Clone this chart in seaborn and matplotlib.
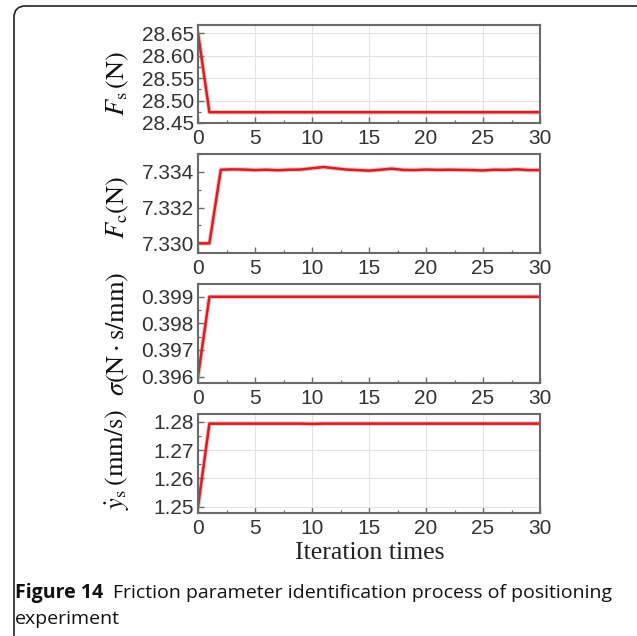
import numpy as np
import pandas as pd
import matplotlib
matplotlib.use("Agg")
import matplotlib.pyplot as plt
import seaborn as sns
from matplotlib.patches import FancyBboxPatch
from matplotlib.ticker import MultipleLocator, FormatStrFormatter

# ---------------- data ----------------
iterations = list(range(0, 31))

fs_values = [28.650, 28.474, 28.474, 28.474, 28.474, 28.474, 28.474, 28.474,
             28.474, 28.474, 28.474, 28.474, 28.474, 28.474, 28.474, 28.474,
             28.474, 28.474, 28.474, 28.474, 28.474, 28.474, 28.474, 28.474,
             28.474, 28.474, 28.474, 28.474, 28.474, 28.474, 28.474]

fc_values = [7.33000, 7.33000, 7.33412, 7.33414, 7.33413, 7.33410, 7.33412,
             7.33409, 7.33412, 7.33413, 7.33420, 7.33427, 7.33420, 7.33413,
             7.33410, 7.33407, 7.33412, 7.33418, 7.33411, 7.33410, 7.33413,
             7.33411, 7.33412, 7.33411, 7.33410, 7.33408, 7.33412, 7.33411,
             7.33414, 7.33410, 7.33410]

sigma_values = [0.39600, 0.39900, 0.39900, 0.39900, 0.39900, 0.39900, 0.39900,
                0.39900, 0.39900, 0.39900, 0.39900, 0.39900, 0.39900, 0.39900,
                0.39900, 0.39900, 0.39900, 0.39900, 0.39900, 0.39900, 0.39900,
                0.39900, 0.39900, 0.39900, 0.39900, 0.39900, 0.39900, 0.39900,
                0.39900, 0.39900, 0.39900]

ys_values = [1.2500, 1.2793, 1.2793, 1.2793, 1.2793, 1.2793, 1.2793, 1.2793,
             1.2793, 1.2793, 1.2792, 1.2793, 1.2793, 1.2793, 1.2793, 1.2793,
             1.2793, 1.2793, 1.2793, 1.2793, 1.2793, 1.2793, 1.2793, 1.2793,
             1.2793, 1.2793, 1.2793, 1.2793, 1.2793, 1.2793, 1.2793]

y_labels = [r"$F_{\mathrm{s}}\,\left(\mathrm{N}\right)$",
            r"$F_{\mathrm{c}}\left(\mathrm{N}\right)$",
            r"$\sigma\left(\mathrm{N\cdot s/mm}\right)$",
            r"$\dot{y}_{\mathrm{s}}\,\left(\mathrm{mm/s}\right)$"]
x_label = "Iteration times"
caption_bold = "Figure 14"
caption_line1 = "Friction parameter identification process of positioning"
caption_line2 = "experiment"

# ---------------- style ----------------
sns.set_theme(style="ticks")
plt.rcParams["font.family"] = ["Liberation Sans", "DejaVu Sans"]
plt.rcParams["mathtext.fontset"] = "stix"

W, H = 637, 636
fig = plt.figure(figsize=(W / 100, H / 100), dpi=100)
fig.patch.set_facecolor("white")

# rounded frame
frame = FancyBboxPatch((14 / W, -0.05), (W + 20) / W, 1 - 6 / H + 0.05,
                       boxstyle="round,pad=0,rounding_size=0.018",
                       transform=fig.transFigure, facecolor="none",
                       edgecolor="#222222", linewidth=1.2, zorder=0)
fig.patches.append(frame)

left_px, right_px = 198, 540
panels_px = [(25, 123), (154, 253), (284, 383), (414, 513)]

specs = [
    dict(vals=fs_values, ylim=(28.45, 28.668), major=0.05, fmt="%.2f", grid=True, lab_y=0.40),
    dict(vals=fc_values, ylim=(7.32946, 7.33500), major=0.002, fmt="%.3f", grid=False, lab_y=0.46),
    dict(vals=sigma_values, ylim=(0.39576, 0.39948), major=0.001, fmt="%.3f", grid=False, lab_y=0.50),
    dict(vals=ys_values, ylim=(1.2478, 1.2827), major=0.01, fmt="%.2f", grid=True, lab_y=0.54),
]

line_color = "#d02028"
spine_color = "#6a6a6a"
tick_color = "#333333"

axes = []
for i, ((top, bot), sp) in enumerate(zip(panels_px, specs)):
    ax = fig.add_axes([left_px / W, 1 - bot / H, (right_px - left_px) / W, (bot - top) / H])
    df = pd.DataFrame({"iter": iterations, "val": sp["vals"]})
    sns.lineplot(data=df, x="iter", y="val", ax=ax, color="#f08080", linewidth=3.4, alpha=0.45)
    sns.lineplot(data=df, x="iter", y="val", ax=ax, color=line_color, linewidth=1.8)
    ax.set_xlim(0, 30)
    ax.set_ylim(*sp["ylim"])
    ax.xaxis.set_major_locator(MultipleLocator(5))
    ax.xaxis.set_minor_locator(MultipleLocator(2.5))
    ax.yaxis.set_major_locator(MultipleLocator(sp["major"]))
    ax.yaxis.set_minor_locator(MultipleLocator(sp["major"] / 2))
    ax.yaxis.set_major_formatter(FormatStrFormatter(sp["fmt"]))
    ax.tick_params(which="both", direction="in", colors=spine_color,
                   labelcolor=tick_color, labelsize=15, top=False, right=False)
    ax.tick_params(which="major", length=4, width=1.0, pad=3)
    ax.tick_params(axis="x", which="major", pad=4)
    ax.tick_params(which="minor", length=2.5, width=0.9)
    for s in ax.spines.values():
        s.set_visible(True)
        s.set_color(spine_color)
        s.set_linewidth(1.5)
    if sp["grid"]:
        ax.grid(True, which="major", color="#e3e3e3", linewidth=0.8)
    ax.set_axisbelow(True)
    ax.set_xlabel("")
    ax.set_ylabel(y_labels[i], fontsize=19, color="#111111", va="center")
    ax.yaxis.set_label_coords((118 - left_px) / (right_px - left_px), sp["lab_y"])
    axes.append(ax)

fig.text(370 / W, 1 - 553 / H, x_label, fontsize=18.5, family=["Liberation Serif", "DejaVu Serif"],
         color="#222222", ha="center", va="center")

# caption
cap_fs = 14
renderer = fig.canvas.get_renderer()
t_bold = fig.text(15 / W, 1 - 593 / H, caption_bold, fontsize=cap_fs, fontweight="bold",
                  family=["Open Sans", "DejaVu Sans"], color="#111111", ha="left", va="center")
bb = t_bold.get_window_extent(renderer=renderer)
fig.text((bb.x1 + 10) / W, 1 - 593 / H, caption_line1, fontsize=cap_fs,
         family=["Open Sans", "DejaVu Sans"], color="#111111", ha="left", va="center")
fig.text(15 / W, 1 - 619 / H, caption_line2, fontsize=cap_fs,
         family=["Open Sans", "DejaVu Sans"], color="#111111", ha="left", va="center")

fig.savefig("out.png", dpi=100)
